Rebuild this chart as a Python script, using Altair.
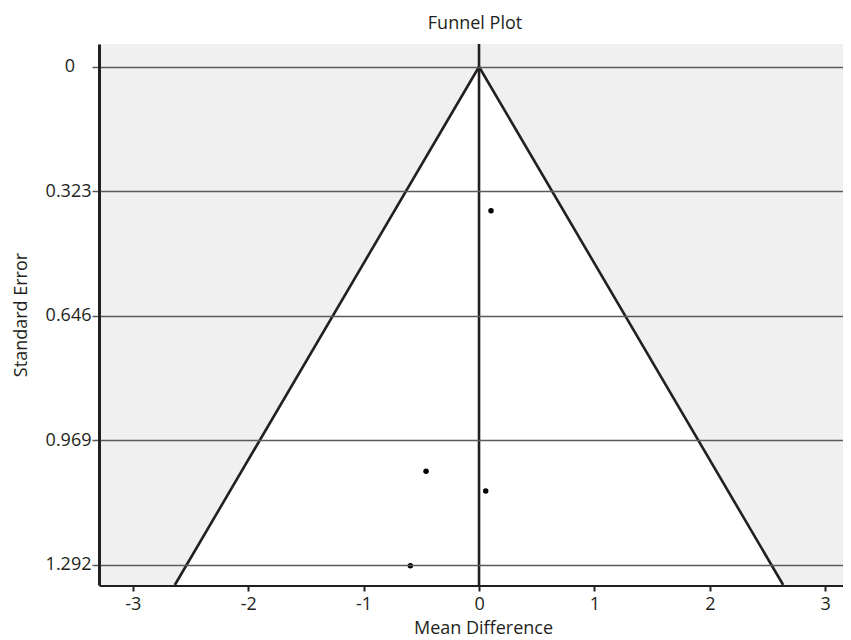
import altair as alt
import pandas as pd

# Study points (mean difference, standard error)
study_md = [0.104, -0.459, 0.058, -0.595]
study_se = [0.374, 1.050, 1.101, 1.295]

# Funnel (pseudo 95% CI) boundary
funnel_se = [0.0, 1.345]
funnel_left = [0.0, -2.636]
funnel_right = [0.0, 2.636]

y_ticks = [0, 0.323, 0.646, 0.969, 1.292]
x_ticks = [-3, -2, -1, 0, 1, 2, 3]

X_DOMAIN = [-3.293, 3.154]
Y_DOMAIN = [-0.059, 1.345]

W, H = 744, 541
FONT = "Open Sans"
FS = 18
DARK = "#231f20"
GRID = "#5a5a5c"

pts = pd.DataFrame({"md": study_md, "se": study_se})
fun = pd.DataFrame({"se": funnel_se, "left": funnel_left, "right": funnel_right})
left_line = pd.DataFrame({"x": funnel_left, "se": funnel_se})
right_line = pd.DataFrame({"x": funnel_right, "se": funnel_se})

xscale = alt.Scale(domain=X_DOMAIN, nice=False, zero=False)
yscale = alt.Scale(domain=Y_DOMAIN, reverse=True, nice=False, zero=False)

xaxis = alt.Axis(
    values=x_ticks, title="Mean Difference", grid=False,
    domainColor=DARK, domainWidth=3, tickColor=DARK, tickWidth=2, tickSize=6,
    labelFont=FONT, labelFontSize=FS, labelColor=DARK, labelPadding=4,
    labelExpr="'' + datum.value",
    titleFont=FONT, titleFontSize=FS, titleFontWeight="normal", titleColor=DARK,
    titleX=384, titleY=48, titleBaseline="alphabetic", titleAlign="center",
)
yaxis = alt.Axis(
    values=y_ticks, title="Standard Error", grid=True,
    gridColor=GRID, gridWidth=1.5, gridOpacity=1,
    domainColor=DARK, domainWidth=3, tickColor=GRID, tickWidth=1.5, tickSize=7,
    labelFont=FONT, labelFontSize=FS, labelColor=DARK, labelPadding=1,
    labelExpr="datum.value == 0 ? '' : format(datum.value, '.3f')",
    titleFont=FONT, titleFontSize=FS, titleFontWeight="normal", titleColor=DARK,
    titlePadding=15, zindex=1,
)

bg = alt.Chart(pd.DataFrame({"a": [0]})).mark_rect(color="#eff0ef").encode(
    x=alt.value(0), x2=alt.value(W), y=alt.value(0), y2=alt.value(H)
)

tri = alt.Chart(fun).mark_area(orient="horizontal", color="white", opacity=1).encode(
    y=alt.Y("se:Q", scale=yscale, axis=yaxis),
    x=alt.X("left:Q", scale=xscale, axis=xaxis),
    x2="right:Q",
)

ll = alt.Chart(left_line).mark_line(color=DARK, strokeWidth=2.6).encode(
    x=alt.X("x:Q", scale=xscale), y=alt.Y("se:Q", scale=yscale), order="se:Q"
)
rl = alt.Chart(right_line).mark_line(color=DARK, strokeWidth=2.6).encode(
    x=alt.X("x:Q", scale=xscale), y=alt.Y("se:Q", scale=yscale), order="se:Q"
)

vline = alt.Chart(pd.DataFrame({"x": [0]})).mark_rule(color=DARK, strokeWidth=2.6).encode(
    x=alt.X("x:Q", scale=xscale)
)

dots = alt.Chart(pts).mark_circle(color="black", size=30, opacity=1).encode(
    x=alt.X("md:Q", scale=xscale), y=alt.Y("se:Q", scale=yscale)
)

# the "0" tick label sits a little further left in the original
zero_lbl = alt.Chart(pd.DataFrame({"se": [0], "t": ["0"]})).mark_text(
    font=FONT, fontSize=FS, color=DARK, align="center", baseline="middle"
).encode(
    x=alt.value(-29), y=alt.Y("se:Q", scale=yscale), text="t:N"
)

chart = (
    alt.layer(bg, tri, ll, rl, vline, dots, zero_lbl)
    .properties(
        width=W, height=H,
        title=alt.TitleParams("Funnel Plot", font=FONT, fontSize=FS, fontWeight="normal",
                              color=DARK, anchor="middle", offset=10, dx=4),
        autosize=alt.AutoSizeParams(type="none"),
        padding={"left": 91, "top": 36, "right": 0, "bottom": 54},
    )
    .configure_view(stroke=None, clip=False)
    .configure(background="white")
)

chart.save("out.html", embed_options={"renderer": "svg", "actions": False})
